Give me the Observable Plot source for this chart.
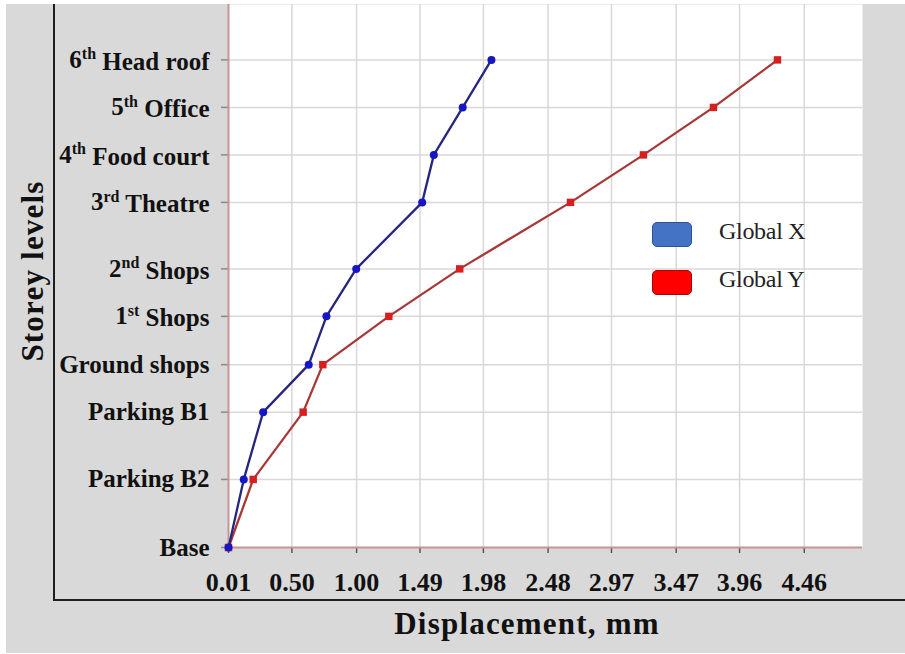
<!DOCTYPE html>
<html>
<head>
<meta charset="utf-8">
<script src="https://cdn.jsdelivr.net/npm/d3@7"></script>
<script src="https://cdn.jsdelivr.net/npm/@observablehq/plot@0.6"></script>
<style>
  html, body { margin: 0; padding: 0; background: #ffffff; }
  #wrap { position: relative; width: 905px; height: 654px; overflow: hidden; }
  #bg { position: absolute; left: 6px; top: 4px; width: 899px; height: 649px; background: #d9d9d9; }
  #frame { position: absolute; left: 53px; top: 4px; width: 860px; height: 595px;
           border-left: 2.5px solid #1e1e1e; border-bottom: 2.5px solid #1e1e1e; pointer-events: none; }
  #chart { position: absolute; left: 0; top: 0; }
  .legend { position: absolute; left: 652px; font-family: "Liberation Serif", "Times New Roman", serif;
            font-size: 24px; color: #222; }
  .legend .sw { position: absolute; left: 0; width: 38px; height: 23px; border-radius: 5px; }
  .legend .lab { position: absolute; left: 67px; white-space: nowrap; letter-spacing: -0.3px; }
</style>
</head>
<body>
<div id="wrap">
  <div id="bg"></div>
  <div id="frame"></div>
  <div id="chart"></div>
</div>
<script>
// ---- data ----
const levels = ["Base", "Parking B2", "Parking B1", "Ground shops", "1st Shops", "2nd Shops",
                "3rd Theatre", "4th Food court", "5th Office", "6th Head roof"];
const elevation = [0, 4.3, 8.55, 11.55, 14.6, 17.6, 21.8, 24.8, 27.8, 30.8];
const globalX = [0.01, 0.128, 0.278, 0.63, 0.767, 0.997, 1.507, 1.597, 1.82, 2.042];
const globalY = [0.01, 0.201, 0.587, 0.739, 1.249, 1.797, 2.653, 3.217, 3.758, 4.253];
const xTicks = [0.01, 0.50, 1.00, 1.49, 1.98, 2.48, 2.97, 3.47, 3.96, 4.46];
const xTickLabels = ["0.01", "0.50", "1.00", "1.49", "1.98", "2.48", "2.97", "3.47", "3.96", "4.46"];
const seriesNames = ["Global X", "Global Y"];
const seriesColors = ["#4472c4", "#ff0000"];

const rows = levels.map((l, i) => ({level: l, elev: elevation[i], gx: globalX[i], gy: globalY[i]}));
const xLabelMap = new Map(xTicks.map((v, i) => [v, xTickLabels[i]]));
const yLabelMap = new Map(elevation.map((v, i) => [v, levels[i]]));

const serif = "'Liberation Serif', 'Times New Roman', serif";

const chart = Plot.plot({
  width: 905,
  height: 654,
  marginLeft: 228,
  marginRight: 43,
  marginTop: 4,
  marginBottom: 107,
  style: {background: "transparent", fontFamily: serif, color: "#111"},
  x: {domain: [0.01, 4.91]},
  y: {domain: [0, 34.3]},
  marks: [
    Plot.frame({fill: "white", stroke: null}),
    Plot.gridX(xTicks.slice(1), {stroke: "#d8d8d8", strokeOpacity: 1, strokeWidth: 1.5}),
    Plot.gridY(elevation.slice(1), {stroke: "#d8d8d8", strokeOpacity: 1, strokeWidth: 1.5}),
    Plot.axisX(xTicks, {
      tickFormat: d => xLabelMap.get(d), tickSize: 6, tickPadding: 19,
      fontSize: 26, fontWeight: "bold", fill: "#111", stroke: "#555", strokeWidth: 1.5, label: null
    }),
    Plot.axisY(elevation, {
      tickFormat: d => yLabelMap.get(d), tickSize: 7, tickPadding: 12,
      fontSize: 25, fontWeight: "bold", fill: "#111", stroke: "#888", strokeWidth: 1.5, label: null
    }),
    Plot.ruleX([0.01], {stroke: "#c79494", strokeWidth: 2}),
    Plot.ruleY([0], {stroke: "#c79494", strokeWidth: 2}),
    Plot.line(rows, {x: "gy", y: "elev", stroke: "#a83838", strokeWidth: 2.3}),
    Plot.dot(rows, {x: "gy", y: "elev", symbol: "square", r: 4.2, fill: "#d81f1f", stroke: null}),
    Plot.line(rows, {x: "gx", y: "elev", stroke: "#26267e", strokeWidth: 2.3}),
    Plot.dot(rows, {x: "gx", y: "elev", r: 4, fill: "#1616c4", stroke: null})
  ]
});
document.getElementById("chart").appendChild(chart);

// superscript ordinals in y tick labels
const svg = d3.select(chart);
svg.selectAll('[aria-label="y-axis tick label"] text').each(function () {
  const t = this.textContent;
  const m = /^(\d)(st|nd|rd|th) (.*)$/.exec(t);
  if (!m) return;
  const el = d3.select(this);
  el.text(null);
  el.append("tspan").text(m[1]);
  el.append("tspan").attr("font-size", 16).attr("dy", "-0.55em").text(m[2]);
  el.append("tspan").attr("dy", "0.42em").text(" " + m[3]);
});

// axis titles
svg.append("text")
  .attr("transform", "translate(43,271) rotate(-90)")
  .attr("text-anchor", "middle")
  .attr("font-family", serif).attr("font-weight", "bold")
  .attr("font-size", 31).attr("letter-spacing", 1.2).attr("fill", "#111")
  .text("Storey levels");
svg.append("text")
  .attr("x", 527).attr("y", 634)
  .attr("text-anchor", "middle")
  .attr("font-family", serif).attr("font-weight", "bold")
  .attr("font-size", 31).attr("letter-spacing", 1.2).attr("fill", "#111")
  .text("Displacement, mm");

// legend
const wrap = document.getElementById("wrap");
const legendTops = [222, 270];
seriesNames.forEach((name, i) => {
  const g = document.createElement("div");
  g.className = "legend";
  g.style.top = legendTops[i] + "px";
  const sw = document.createElement("div");
  sw.className = "sw";
  sw.style.background = seriesColors[i];
  sw.style.border = "1.5px solid " + (i === 0 ? "#2f528f" : "#b00000");
  const lab = document.createElement("div");
  lab.className = "lab";
  lab.style.top = "-4px";
  lab.textContent = name;
  g.appendChild(sw);
  g.appendChild(lab);
  wrap.appendChild(g);
});
</script>
</body>
</html>
